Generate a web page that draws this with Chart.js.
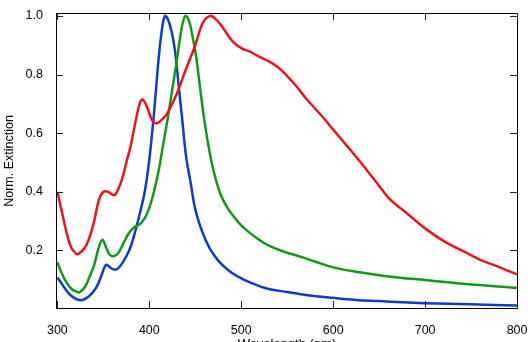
<!DOCTYPE html>
<html>
<head>
<meta charset="utf-8">
<script src="https://cdn.jsdelivr.net/npm/chart.js@4/dist/chart.umd.min.js"></script>
<style>
  html, body { margin: 0; padding: 0; overflow: hidden; background: #fff; }
  canvas { display: block; }
</style>
</head>
<body>
<canvas id="spectra" width="528" height="356"></canvas>
<script>
// wavelength (nm) and normalised extinction
const redWl = [300, 305, 310, 315, 320, 323, 330, 335, 340, 345, 350, 355, 360, 363, 370, 375, 380, 385, 390, 393, 398, 403, 408, 415, 420, 430, 440, 450, 458, 466, 472, 480, 490, 500, 510, 520, 530, 540, 550, 560, 570, 580, 590, 600, 610, 620, 630, 640, 650, 662, 680, 702, 724, 742, 760, 778, 800]
const redExt = [0.40, 0.33, 0.26, 0.21, 0.19, 0.188, 0.21, 0.245, 0.30, 0.37, 0.40, 0.40, 0.39, 0.39, 0.44, 0.50, 0.56, 0.64, 0.705, 0.715, 0.685, 0.645, 0.634, 0.65, 0.67, 0.735, 0.82, 0.90, 0.975, 1.0, 0.99, 0.96, 0.915, 0.89, 0.877, 0.86, 0.845, 0.825, 0.795, 0.76, 0.72, 0.685, 0.65, 0.612, 0.575, 0.538, 0.50, 0.46, 0.42, 0.373, 0.327, 0.27, 0.225, 0.197, 0.168, 0.146, 0.118]

const greenWl = [300, 305, 310, 315, 320, 324, 330, 335, 340, 345, 349, 353, 357, 361, 366, 372, 378, 384, 390, 395, 400, 405, 410, 415, 420, 425, 430, 435, 439, 443, 447, 451, 455, 460, 465, 470, 477, 485, 492, 500, 510, 520, 530, 545, 565, 580, 600, 625, 650, 675, 700, 725, 750, 775, 800]
const greenExt = [0.159, 0.12, 0.09, 0.07, 0.06, 0.057, 0.075, 0.11, 0.15, 0.21, 0.236, 0.21, 0.185, 0.18, 0.19, 0.225, 0.26, 0.28, 0.29, 0.31, 0.345, 0.40, 0.47, 0.56, 0.65, 0.75, 0.85, 0.955, 1.0, 0.985, 0.93, 0.86, 0.76, 0.64, 0.545, 0.47, 0.395, 0.345, 0.315, 0.285, 0.258, 0.235, 0.216, 0.197, 0.178, 0.162, 0.142, 0.127, 0.115, 0.106, 0.099, 0.091, 0.084, 0.078, 0.072]

const blueWl = [300, 305, 310, 315, 320, 326, 332, 338, 343, 348, 353, 358, 363, 368, 375, 380, 386, 390, 395, 400, 405, 410, 414, 417, 420, 424, 428, 432, 436, 440, 445, 450, 458, 466, 475, 485, 495, 510, 530, 550, 570, 600, 625, 650, 675, 700, 750, 800]
const blueExt = [0.108, 0.085, 0.062, 0.045, 0.035, 0.03, 0.038, 0.055, 0.077, 0.115, 0.151, 0.14, 0.134, 0.145, 0.18, 0.215, 0.28, 0.33, 0.40, 0.51, 0.665, 0.85, 0.96, 1.0, 0.99, 0.95, 0.88, 0.76, 0.64, 0.52, 0.43, 0.34, 0.26, 0.205, 0.165, 0.135, 0.113, 0.09, 0.068, 0.058, 0.048, 0.038, 0.031, 0.027, 0.023, 0.02, 0.016, 0.012]

const xTicks = [300, 400, 500, 600, 700, 800]
const yTicks = [0.2, 0.4, 0.6, 0.8, 1.0]

const toPoints = (xs, ys) => xs.map((x, i) => ({ x, y: ys[i] }))

const series = (data, color) => ({
    data,
    borderColor: color,
    borderWidth: 2.5,
    pointRadius: 0,
    showLine: true,
    fill: false,
    tension: 0.35
})

// frame round the plot with short ticks pointing inwards on all four sides
const frameTicks = {
    id: 'frameTicks',
    afterDraw(chart) {
        const { ctx, chartArea: a, scales } = chart
        const len = 7
        const l = Math.round(a.left), r = Math.round(a.right) - 1
        const t = Math.round(a.top), b = Math.round(a.bottom) - 1
        ctx.save()
        ctx.fillStyle = '#000'
        ctx.fillRect(l, t, r - l + 1, 1)
        ctx.fillRect(l, b, r - l + 1, 1)
        ctx.fillRect(l, t, 1, b - t + 1)
        ctx.fillRect(r, t, 1, b - t + 1)
        ctx.fillStyle = '#222'
        xTicks.forEach(v => {
            const px = Math.round(scales.x.getPixelForValue(v))
            ctx.fillRect(px, b - len, 1, len)
            ctx.fillRect(px, t, 1, len)
        })
        yTicks.forEach(v => {
            const py = Math.round(scales.y.getPixelForValue(v))
            ctx.fillRect(l, py, len, 1)
            ctx.fillRect(r - len, py, len, 1)
        })
        ctx.restore()
    }
}

const font = { family: "'Liberation Sans', Arial, sans-serif", size: 12.5 }

new Chart(document.getElementById('spectra'), {
    type: 'scatter',
    data: {
        datasets: [
            series(toPoints(redWl, redExt), '#e8161c'),
            series(toPoints(greenWl, greenExt), '#16961c'),
            series(toPoints(blueWl, blueExt), '#0c3ec4')
        ]
    },
    options: {
        responsive: false,
        animation: false,
        layout: { padding: { left: 0, right: 10, top: 13, bottom: 0 } },
        plugins: { legend: { display: false }, tooltip: { enabled: false } },
        scales: {
            x: {
                type: 'linear',
                min: 298.5,
                max: 801,
                afterBuildTicks: s => { s.ticks = xTicks.map(value => ({ value })) },
                afterFit: s => { s.height = 47; s.paddingLeft = 0; s.paddingRight = 0 },
                grid: { display: false },
                border: { display: false },
                ticks: { color: '#000', font, padding: 6, maxRotation: 0 },
                title: {
                    display: true,
                    text: 'Wavelength (nm)',
                    color: '#000',
                    font: { family: font.family, size: 13 },
                    padding: { top: 0, bottom: 4 }
                }
            },
            y: {
                min: 0,
                max: 1.01,
                afterBuildTicks: s => { s.ticks = yTicks.map(value => ({ value })) },
                afterFit: s => { s.width = 56; s.paddingTop = 0; s.paddingBottom = 0 },
                grid: { display: false },
                border: { display: false },
                ticks: { color: '#000', font, padding: 5, callback: v => v.toFixed(1) },
                title: {
                    display: true,
                    text: 'Norm. Extinction',
                    color: '#000',
                    font: { family: font.family, size: 12.5 },
                    padding: { top: 2, bottom: 0 }
                }
            }
        }
    },
    plugins: [frameTicks]
})
</script>
</body>
</html>
